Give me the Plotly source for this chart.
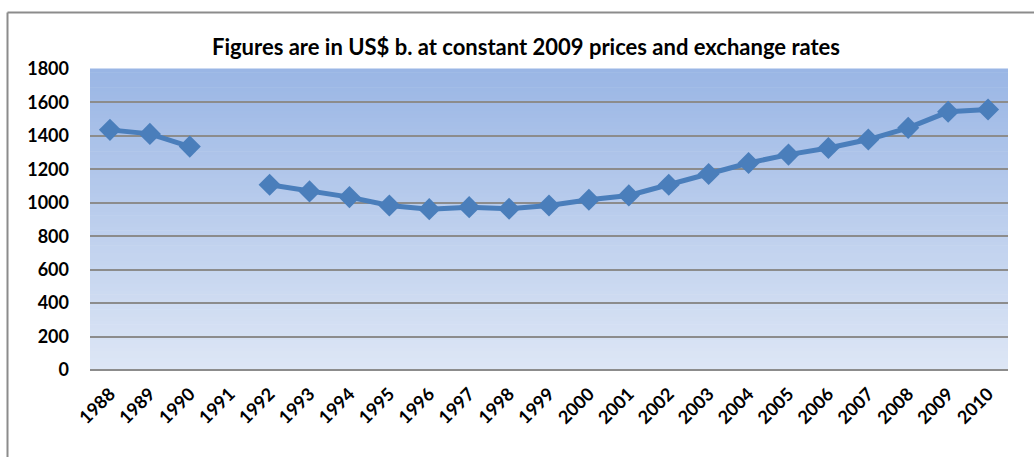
import plotly.graph_objects as go

years = [str(y) for y in range(1988, 2011)]
values = [1436, 1412, 1336, None, 1108, 1068, 1034, 984, 962, 974, 964, 984,
          1018, 1044, 1108, 1172, 1238, 1288, 1328, 1378, 1448, 1544, 1558]
title_text = "Figures are in US$ b. at constant 2009 prices and exchange rates"
y_ticks = list(range(0, 2000, 200))

W, H = 1034, 457
L, R, T, B = 90, 26, 69, 87
pw, ph = W - L - R, H - T - B

fig = go.Figure()
fig.add_trace(go.Scatter(
    x=years, y=values, mode="lines+markers",
    line=dict(color="#4a7ebb", width=5),
    marker=dict(symbol="diamond", size=17, color="#4a7ebb"),
    connectgaps=False, showlegend=False,
))

# gradient background bands
top = (154, 182, 229)
bot = (221, 230, 245)
n = 80
shapes = []
for i in range(n):
    t = i / (n - 1)
    c = tuple(round(bot[k] + (top[k] - bot[k]) * t) for k in range(3))
    shapes.append(dict(type="rect", xref="paper", yref="paper",
                       x0=0, x1=1, y0=i / n, y1=(i + 1) / n + 0.002,
                       fillcolor="rgb(%d,%d,%d)" % c, line=dict(width=0),
                       layer="below"))

# outer chart frame
fx0 = (7.5 - L) / pw
fy1 = (H - B - 12.5) / ph
shapes.append(dict(type="line", xref="paper", yref="paper",
                   x0=fx0, x1=fx0, y0=fy1, y1=-0.5,
                   line=dict(color="#8c8c8c", width=2)))
shapes.append(dict(type="line", xref="paper", yref="paper",
                   x0=fx0, x1=1.2, y0=fy1, y1=fy1,
                   line=dict(color="#8c8c8c", width=2)))

font_family = "Lato, 'Open Sans', sans-serif"
fig.update_layout(
    width=W, height=H,
    margin=dict(l=L, r=R, t=T, b=B, pad=0, autoexpand=False),
    paper_bgcolor="white", plot_bgcolor="rgba(0,0,0,0)",
    shapes=shapes,
    title=dict(text="<b>" + title_text + "</b>", x=526 / W, xanchor="center",
               y=1 - 47 / H, yanchor="middle",
               font=dict(family=font_family, size=22, color="black")),
    xaxis=dict(type="category", categoryorder="array", categoryarray=years,
               range=[-0.5, len(years) - 0.5],
               tickangle=-45, showgrid=False, zeroline=False, automargin=False,
               tickfont=dict(family=font_family, size=18, color="black", weight="bold"),
               ticks="", showline=False, ticklabelstandoff=9),
    yaxis=dict(range=[0, 1800], tickvals=y_ticks, automargin=False,
               ticktext=["<b>%d</b>" % v for v in y_ticks],
               showgrid=True, gridcolor="#8c8c8c", gridwidth=2,
               zeroline=True, zerolinecolor="#8c8c8c", zerolinewidth=2,
               ticks="", ticklabelstandoff=20,
               tickfont=dict(family=font_family, size=18, color="black")),
)

fig.write_html("out.html", config={"displayModeBar": False},
               post_script="document.body.style.margin='0';document.body.style.overflow='hidden';")
